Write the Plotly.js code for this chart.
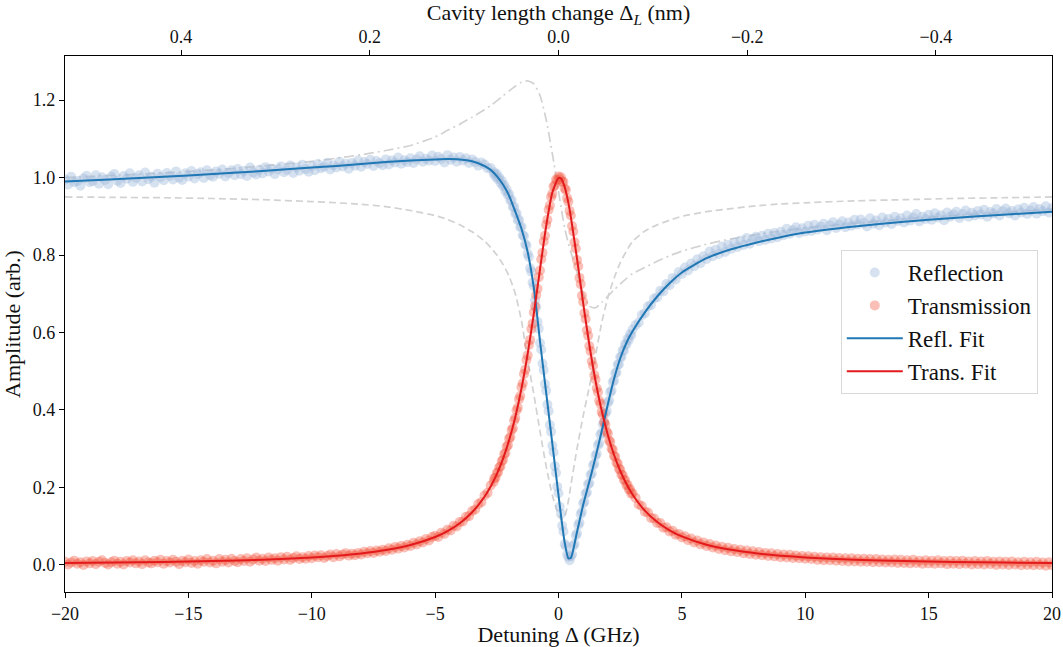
<!DOCTYPE html>
<html>
<head>
<meta charset="utf-8">
<script src="https://cdn.plot.ly/plotly-3.0.1.min.js"></script>
<style>html,body{margin:0;padding:0;background:#fff;}#chart{width:1063px;height:647px;}</style>
</head>
<body>
<div id="chart"></div>
<script>
// Measured detuning points (GHz)
const dataX = [
-20,-19.875,-19.75,-19.625,-19.5,-19.375,-19.25,-19.125,
-19,-18.875,-18.75,-18.625,-18.5,-18.375,-18.25,-18.125,
-18,-17.875,-17.75,-17.625,-17.5,-17.375,-17.25,-17.125,
-17,-16.875,-16.75,-16.625,-16.5,-16.375,-16.25,-16.125,
-16,-15.875,-15.75,-15.625,-15.5,-15.375,-15.25,-15.125,
-15,-14.875,-14.75,-14.625,-14.5,-14.375,-14.25,-14.125,
-14,-13.875,-13.75,-13.625,-13.5,-13.375,-13.25,-13.125,
-13,-12.875,-12.75,-12.625,-12.5,-12.375,-12.25,-12.125,
-12,-11.875,-11.75,-11.625,-11.5,-11.375,-11.25,-11.125,
-11,-10.875,-10.75,-10.625,-10.5,-10.375,-10.25,-10.125,
-10,-9.875,-9.75,-9.625,-9.5,-9.375,-9.25,-9.125,
-9,-8.875,-8.75,-8.625,-8.5,-8.375,-8.25,-8.125,
-8,-7.875,-7.75,-7.625,-7.5,-7.375,-7.25,-7.125,
-7,-6.875,-6.75,-6.625,-6.5,-6.375,-6.25,-6.125,
-6,-5.875,-5.75,-5.625,-5.5,-5.375,-5.25,-5.125,
-5,-4.875,-4.75,-4.625,-4.5,-4.375,-4.25,-4.125,
-4,-3.875,-3.75,-3.625,-3.5,-3.375,-3.25,-3.125,
-3,-2.875,-2.75,-2.625,
-2.6,-2.55,-2.5,-2.45,-2.4,-2.35,-2.3,-2.25,-2.2,-2.15,-2.1,-2.05,-2.0,-1.95,-1.9,-1.85,-1.8,-1.75,-1.7,-1.65,
-1.6,-1.55,-1.5,-1.45,-1.4,-1.35,-1.3,-1.25,-1.2,-1.15,-1.1,-1.05,-1.0,-0.95,-0.9,-0.85,-0.8,-0.75,-0.7,-0.65,
-0.6,-0.55,-0.5,-0.45,-0.4,-0.35,-0.3,-0.25,-0.2,-0.15,-0.1,-0.05,0.0,0.05,0.1,0.15,0.2,0.25,0.3,0.35,
0.4,0.45,0.5,0.55,0.6,0.65,0.7,0.75,0.8,0.85,0.9,0.95,1.0,1.05,1.1,1.15,1.2,1.25,1.3,1.35,
1.4,1.45,1.5,1.55,1.6,1.65,1.7,1.75,1.8,1.85,1.9,1.95,2.0,2.05,2.1,2.15,2.2,2.25,2.3,2.35,
2.4,2.45,2.5,2.55,2.6,2.65,2.7,2.75,2.8,2.85,2.9,2.95,3.0,
3.125,3.25,3.375,3.5,3.625,3.75,3.875,4,
4.125,4.25,4.375,4.5,4.625,4.75,4.875,5,
5.125,5.25,5.375,5.5,5.625,5.75,5.875,6,
6.125,6.25,6.375,6.5,6.625,6.75,6.875,7,
7.125,7.25,7.375,7.5,7.625,7.75,7.875,8,
8.125,8.25,8.375,8.5,8.625,8.75,8.875,9,
9.125,9.25,9.375,9.5,9.625,9.75,9.875,10,
10.125,10.25,10.375,10.5,10.625,10.75,10.875,11,
11.125,11.25,11.375,11.5,11.625,11.75,11.875,12,
12.125,12.25,12.375,12.5,12.625,12.75,12.875,13,
13.125,13.25,13.375,13.5,13.625,13.75,13.875,14,
14.125,14.25,14.375,14.5,14.625,14.75,14.875,15,
15.125,15.25,15.375,15.5,15.625,15.75,15.875,16,
16.125,16.25,16.375,16.5,16.625,16.75,16.875,17,
17.125,17.25,17.375,17.5,17.625,17.75,17.875,18,
18.125,18.25,18.375,18.5,18.625,18.75,18.875,19,
19.125,19.25,19.375,19.5,19.625,19.75,19.875,20
];
// Reflection amplitude (measured)
const reflection = [
0.995,0.982,1.002,0.988,0.991,0.979,0.998,1.005,
0.988,0.991,1.006,0.984,1.001,0.994,0.983,1.003,
1.009,0.992,0.986,1.004,0.997,1.011,0.989,0.999,
1.006,0.990,1.013,0.996,1.002,0.987,1.010,1.001,
0.993,1.012,1.004,0.995,1.016,1.000,0.994,1.011,
1.003,1.017,0.998,1.009,1.014,0.999,1.019,1.006,
1.002,1.016,1.010,1.021,1.003,1.012,1.019,1.006,
1.022,1.009,1.017,1.004,1.026,1.013,1.008,1.020,
1.011,1.027,1.016,1.023,1.009,1.021,1.029,1.014,
1.020,1.031,1.012,1.026,1.018,1.033,1.022,1.015,
1.030,1.019,1.035,1.024,1.028,1.038,1.021,1.032,
1.026,1.041,1.029,1.036,1.023,1.038,1.031,1.044,
1.028,1.040,1.035,1.046,1.030,1.043,1.037,1.032,
1.047,1.034,1.044,1.039,1.052,1.036,1.045,1.040,
1.050,1.038,1.047,1.055,1.041,1.049,1.044,1.057,
1.043,1.054,1.048,1.039,1.058,1.046,1.052,1.041,
1.053,1.044,1.050,1.038,1.047,1.040,1.031,1.039,
1.034,1.024,1.025,1.010,
1.014,1.002,1.009,0.996,1.000,0.986,0.992,0.978,0.981,0.965,0.969,0.955,0.957,0.941,0.942,0.924,0.925,0.907,0.908,0.890,
0.891,0.872,0.873,0.851,0.849,0.828,0.825,0.803,0.795,0.766,0.757,0.729,0.720,0.683,0.665,0.628,0.610,0.573,0.556,0.520,
0.503,0.467,0.450,0.414,0.397,0.361,0.344,0.308,0.291,0.255,0.238,0.202,0.185,0.150,0.132,0.101,0.086,0.054,0.048,0.027,
0.021,0.012,0.022,0.027,0.049,0.054,0.076,0.081,0.103,0.109,0.131,0.137,0.159,0.163,0.184,0.187,0.208,0.211,0.232,0.236,
0.257,0.261,0.282,0.287,0.309,0.314,0.336,0.341,0.363,0.369,0.391,0.397,0.419,0.424,0.446,0.450,0.472,0.476,0.495,0.497,
0.517,0.518,0.537,0.537,0.554,0.553,0.570,0.569,0.584,0.581,0.596,0.593,0.608,
0.619,0.626,0.645,0.650,0.667,0.671,0.688,0.691,
0.708,0.706,0.725,0.722,0.741,0.737,0.756,0.751,
0.768,0.760,0.778,0.771,0.789,0.779,0.797,0.790,
0.809,0.797,0.814,0.803,0.822,0.808,0.826,0.816,
0.832,0.821,0.837,0.826,0.844,0.829,0.841,0.847,
0.836,0.850,0.839,0.855,0.843,0.857,0.846,0.860,
0.851,0.868,0.855,0.864,0.872,0.857,0.869,0.861,
0.876,0.862,0.878,0.866,0.873,0.881,0.864,0.877,
0.885,0.870,0.879,0.887,0.872,0.884,0.876,0.891,
0.879,0.892,0.883,0.874,0.895,0.881,0.889,0.877,
0.897,0.884,0.893,0.880,0.899,0.888,0.895,0.884,
0.902,0.889,0.897,0.906,0.887,0.899,0.893,0.904,
0.891,0.908,0.897,0.903,0.890,0.910,0.899,0.905,
0.912,0.896,0.906,0.915,0.899,0.909,0.902,0.914,
0.905,0.917,0.899,0.911,0.907,0.919,0.902,0.913,
0.920,0.908,0.914,0.902,0.918,0.910,0.922,0.906,
0.915,0.924,0.907,0.919,0.913,0.926,0.910,0.921
];
// Transmission amplitude (measured)
const transmission = [
0.008,0.001,0.006,0.011,0.003,0.007,0.000,0.009,
0.004,0.010,0.002,0.008,0.012,0.005,0.001,0.007,
0.011,0.003,0.008,0.001,0.010,0.006,0.012,0.004,
0.009,0.002,0.012,0.006,0.004,0.011,0.007,0.013,
0.003,0.010,0.006,0.013,0.008,0.002,0.011,0.007,
0.014,0.005,0.010,0.003,0.012,0.008,0.015,0.006,
0.011,0.004,0.015,0.008,0.013,0.006,0.016,0.010,
0.007,0.015,0.010,0.017,0.008,0.014,0.019,0.011,
0.016,0.010,0.019,0.013,0.017,0.011,0.020,0.014,
0.021,0.013,0.018,0.022,0.015,0.020,0.016,0.023,
0.017,0.024,0.020,0.025,0.018,0.023,0.027,0.020,
0.028,0.022,0.027,0.030,0.024,0.029,0.025,0.031,
0.027,0.034,0.030,0.036,0.031,0.037,0.034,0.039,
0.036,0.043,0.039,0.046,0.042,0.049,0.045,0.052,
0.049,0.057,0.053,0.061,0.058,0.067,0.063,0.072,
0.075,0.072,0.083,0.080,0.091,0.089,0.101,0.099,
0.111,0.112,0.124,0.126,0.139,0.143,0.157,0.162,
0.179,0.186,0.205,0.215,
0.224,0.225,0.237,0.239,0.252,0.254,0.268,0.271,0.286,0.289,0.305,0.309,0.326,0.330,0.348,0.353,0.373,0.379,0.399,0.406,
0.428,0.436,0.459,0.469,0.493,0.504,0.529,0.541,0.568,0.581,0.609,0.623,0.652,0.668,0.697,0.713,0.743,0.760,0.789,0.806,
0.835,0.850,0.878,0.891,0.917,0.928,0.950,0.958,0.977,0.980,0.995,0.993,1.003,0.996,1.001,0.989,0.989,0.972,0.968,0.947,
0.938,0.914,0.902,0.875,0.861,0.833,0.817,0.787,0.771,0.741,0.725,0.695,0.679,0.650,0.635,0.606,0.592,0.565,0.552,0.526,
0.514,0.490,0.479,0.456,0.446,0.424,0.416,0.395,0.388,0.368,0.362,0.344,0.339,0.321,0.317,0.300,0.297,0.281,0.279,0.264,
0.262,0.248,0.246,0.233,0.232,0.219,0.219,0.206,0.207,0.195,0.195,0.184,0.185,
0.173,0.156,0.152,0.137,0.135,0.121,0.120,0.108,
0.108,0.096,0.097,0.086,0.088,0.078,0.080,0.071,
0.074,0.064,0.068,0.058,0.063,0.053,0.058,0.049,
0.054,0.045,0.050,0.041,0.047,0.038,0.044,0.035,
0.041,0.033,0.039,0.030,0.037,0.028,0.035,0.026,
0.033,0.025,0.031,0.023,0.030,0.022,0.028,0.020,
0.027,0.019,0.026,0.018,0.024,0.017,0.023,0.016,
0.022,0.015,0.021,0.013,0.020,0.012,0.019,0.012,
0.019,0.011,0.018,0.010,0.017,0.009,0.017,0.009,
0.016,0.008,0.016,0.008,0.015,0.007,0.015,0.007,
0.014,0.006,0.013,0.006,0.014,0.005,0.013,0.005,
0.012,0.004,0.013,0.005,0.011,0.003,0.012,0.004,
0.011,0.003,0.012,0.004,0.010,0.002,0.011,0.003,
0.010,0.002,0.011,0.003,0.009,0.001,0.010,0.002,
0.009,0.001,0.010,0.002,0.008,0.000,0.009,0.001,
0.008,0.000,0.009,0.001,0.007,-0.001,0.008,0.000,
0.007,-0.001,0.008,0.000,0.006,-0.002,0.007,-0.001
];
// Fit / model curves
const fitX = [-20,-18,-16,-14,-12,-10,-9,-8,-7,-6,-5,-4.5,-4,-3.5,-3,-2.75,-2.5,-2.25,-2,-1.75,-1.5,-1.25,-1,-0.75,-0.5,-0.25,
0,0.1,0.25,0.4,0.5,0.75,1,1.25,1.5,1.75,2,2.25,2.5,2.75,3,3.5,4,4.5,5,6,7,8,9,10,12,14,16,18,20];
const reflFit = [0.990,0.996,1.002,1.009,1.017,1.026,1.030,1.035,1.040,1.044,1.047,1.048,1.047,1.042,1.030,1.020,1.004,0.982,0.953,0.912,0.868,0.808,0.715,0.578,0.445,0.313,
0.180,0.128,0.058,0.017,0.018,0.085,0.155,0.215,0.278,0.345,0.415,0.480,0.533,0.573,0.603,0.652,0.693,0.727,0.755,0.792,0.815,0.832,0.846,0.858,0.874,0.886,0.896,0.904,0.912];
const transFit = [0.0049,0.0060,0.0076,0.0099,0.0134,0.0191,0.0235,0.0295,0.0382,0.0512,0.0719,0.0872,0.1077,0.1359,0.1759,0.2023,0.2344,0.2738,0.3223,0.3821,0.4557,0.5447,0.6488,0.7631,0.8747,0.9615,
0.9995,0.9975,0.9759,0.9347,0.8987,0.7908,0.6757,0.5684,0.4756,0.3985,0.3356,0.2845,0.2431,0.2094,0.1818,0.1400,0.1106,0.0893,0.0735,0.0521,0.0388,0.0299,0.0238,0.0193,0.0135,0.0099,0.0076,0.0060,0.0049];
const modelDashed = [0.950,0.949,0.948,0.946,0.943,0.938,0.935,0.931,0.925,0.915,0.902,0.892,0.878,0.860,0.836,0.820,0.800,0.776,0.745,0.700,0.630,0.530,0.440,0.345,0.255,0.180,
0.130,0.117,0.125,0.165,0.205,0.300,0.385,0.460,0.540,0.625,0.690,0.740,0.780,0.810,0.835,0.862,0.878,0.890,0.900,0.912,0.920,0.927,0.932,0.935,0.940,0.943,0.946,0.948,0.950];
const modelDashDot = [1.000,1.006,1.012,1.020,1.030,1.042,1.050,1.059,1.070,1.083,1.105,1.122,1.138,1.156,1.175,1.186,1.198,1.211,1.224,1.236,1.246,1.250,1.242,1.212,1.150,1.062,
0.965,0.925,0.870,0.830,0.808,0.755,0.700,0.668,0.664,0.678,0.694,0.710,0.725,0.739,0.752,0.768,0.784,0.798,0.810,0.828,0.842,0.853,0.862,0.870,0.882,0.893,0.902,0.910,0.918];
// Axis ticks
const topTicks = [0.4, 0.2, 0.0, -0.2, -0.4];
const xTicks = [-20, -15, -10, -5, 0, 5, 10, 15, 20];
const yTicks = [0.0, 0.2, 0.4, 0.6, 0.8, 1.0, 1.2];

const FONT = 'Liberation Serif, Times New Roman, serif';
const traces = [
  {x: fitX, y: modelDashed, mode: 'lines', line: {color: '#d2d2d2', width: 1.7, dash: '7px,4px', shape: 'spline', smoothing: 0.6}, showlegend: false, hoverinfo: 'skip'},
  {x: fitX, y: modelDashDot, mode: 'lines', line: {color: '#d2d2d2', width: 1.7, dash: '10px,4px,2px,4px', shape: 'spline', smoothing: 0.6}, showlegend: false, hoverinfo: 'skip'},
  {x: dataX, y: reflection, mode: 'markers', name: 'Reflection', marker: {color: 'rgba(160,185,220,0.42)', size: 10, line: {width: 0}}},
  {x: dataX, y: transmission, mode: 'markers', name: 'Transmission', marker: {color: 'rgba(242,88,64,0.38)', size: 10, line: {width: 0}}},
  {x: fitX, y: reflFit, mode: 'lines', name: 'Refl. Fit', line: {color: '#1f77b4', width: 2, shape: 'spline', smoothing: 0.6}},
  {x: fitX, y: transFit, mode: 'lines', name: 'Trans. Fit', line: {color: '#e31a1c', width: 2, shape: 'spline', smoothing: 0.6}},
  {x: [], y: [], xaxis: 'x2', mode: 'lines', showlegend: false, hoverinfo: 'skip'}
];
const layout = {
  width: 1063, height: 647,
  margin: {l: 65, r: 11, t: 56, b: 55},
  paper_bgcolor: '#fff', plot_bgcolor: '#fff',
  font: {family: FONT, size: 18, color: '#111'},
  showlegend: true,
  legend: {x: 0.786, y: 0.638, xanchor: 'left', yanchor: 'top', bgcolor: '#fff', bordercolor: '#d9d9d9', borderwidth: 1,
           font: {family: FONT, size: 23, color: '#111'}, tracegroupgap: 0, itemwidth: 56},
  xaxis: {range: [-20, 20], tickvals: xTicks, showgrid: false, zeroline: false, showline: true, linecolor: '#000', linewidth: 1.2,
          ticks: 'outside', ticklen: 5, tickcolor: '#000', mirror: false,
          title: {text: 'Detuning Δ (GHz)', font: {family: FONT, size: 22}, standoff: 6}},
  xaxis2: {overlaying: 'x', side: 'top', range: [0.523, -0.523], tickvals: topTicks, tickformat: '.1f', showgrid: false, zeroline: false,
           showline: true, linecolor: '#000', linewidth: 1.2, ticks: 'outside', ticklen: 5, tickcolor: '#000',
           title: {text: 'Cavity length change Δ<sub><i>L</i></sub> (nm)', font: {family: FONT, size: 22}, standoff: 4}},
  yaxis: {range: [-0.07, 1.314], tickvals: yTicks, tickformat: '.1f', showgrid: false, zeroline: false, showline: true, mirror: true,
          linecolor: '#000', linewidth: 1.2, ticks: 'outside', ticklen: 5, tickcolor: '#000',
          title: {text: 'Amplitude (arb.)', font: {family: FONT, size: 22}, standoff: 6}}
};
Plotly.newPlot('chart', traces, layout, {displayModeBar: false, staticPlot: true});
</script>
</body>
</html>
